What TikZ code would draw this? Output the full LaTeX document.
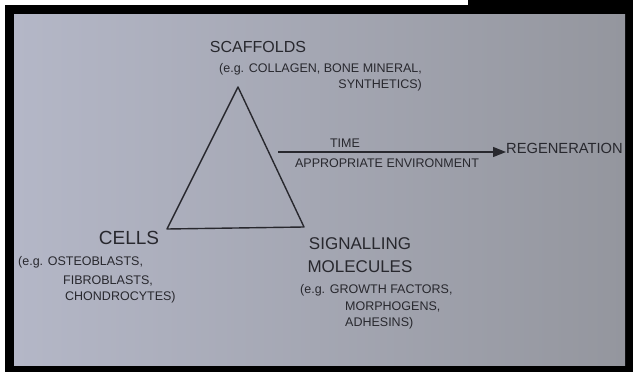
\documentclass[tikz,border=0pt]{standalone}
\usepackage{fontspec}
\setmainfont{Liberation Sans}
\usetikzlibrary{arrows.meta}
\definecolor{paperL}{RGB}{180,183,199}
\definecolor{paperR}{RGB}{148,150,158}
\definecolor{ink}{RGB}{40,40,46}
\begin{document}
\begin{tikzpicture}[x=1pt,y=-1pt,
    big/.style={text=ink,inner sep=0pt,font=\fontsize{16}{18}\selectfont},
    small/.style={text=ink,inner sep=0pt,font=\fontsize{12.5}{16}\selectfont},
    pen/.style={draw=ink,line width=1.4pt,line join=round}]
   \useasboundingbox (0,0) rectangle (633,372);
   % photo frame and paper
   \fill[white] (0,0) rectangle (633,372);
   \fill[black] (5,5) -- (468,5) -- (468,0) -- (633,0) -- (633,372) -- (5,372) -- cycle;
   \shade[left color=paperL,right color=paperR] (14,14) rectangle (625,365);

   % triangle
   \coordinate (top) at (238,87);
   \coordinate (bl) at (167,229);
   \coordinate (br) at (304,227);
   \draw[pen] (top) -- (br) -- (bl) -- cycle;

   \node[big] (scaf) at (258,47) {SCAFFOLDS};
   \node[small,align=right,anchor=north east] (scafex) at (422,63) {(e.g. COLLAGEN, BONE MINERAL,\\SYNTHETICS)};

   \node[big,font=\fontsize{19}{20}\selectfont] (cells) at (129,238) {CELLS};
   \node[small,anchor=west] (cellsa) at (18,262) {(e.g. OSTEOBLASTS,};
   \node[small,anchor=west] (cellsb) at (63,281) {FIBROBLASTS,};
   \node[small,anchor=west] (cellsc) at (65,297) {CHONDROCYTES)};

   \node[big,align=center,font=\fontsize{17}{23}\selectfont] (sig) at (360,255) {SIGNALLING\\MOLECULES};
   \node[small,anchor=west] (siga) at (300,290) {(e.g. GROWTH FACTORS,};
   \node[small,anchor=west] (sigb) at (345,307) {MORPHOGENS,};
   \node[small,anchor=west] (sigc) at (345,323) {ADHESINS)};

   % arrow to regeneration
   \coordinate (start) at (278,152);
   \node[big,font=\fontsize{14.7}{16}\selectfont,anchor=west] (regen) at (506,148) {REGENERATION};
   \draw[pen,-{Triangle[length=13pt,width=10pt]}] (start) -- (regen.west |- start);
   \node[small] (time) at (345,143) {TIME};
   \node[small] (env) at (387,163) {APPROPRIATE ENVIRONMENT};
\end{tikzpicture}
\end{document}
